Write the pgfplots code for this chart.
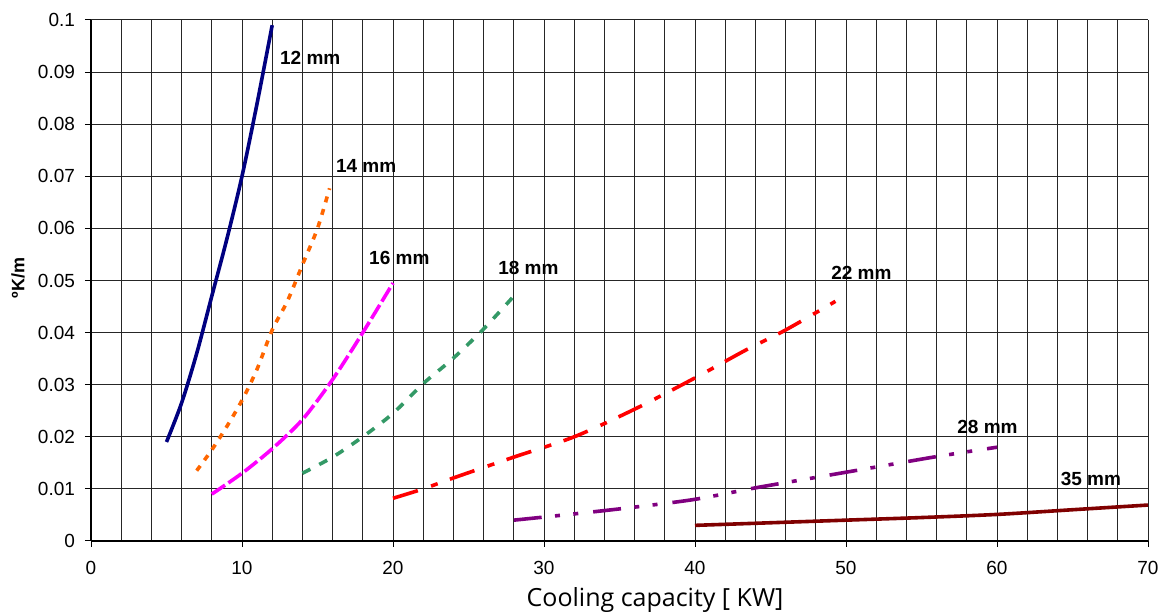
\documentclass[border=0pt]{standalone}
\usepackage{pgfplots}
\pgfplotsset{compat=1.18}
\usepackage{fontspec}
\setmainfont{Liberation Sans}
\newfontfamily\xlabfont{Open Sans}
\definecolor{cnavy}{HTML}{000080}
\definecolor{corange}{HTML}{FF6600}
\definecolor{cmag}{HTML}{FF00FF}
\definecolor{cgreen}{HTML}{339966}
\definecolor{cred}{HTML}{FF0000}
\definecolor{cpurple}{HTML}{800080}
\definecolor{cdred}{HTML}{800000}
\begin{document}
\begin{tikzpicture}
\path[use as bounding box] (-45.5pt,-36.5pt) rectangle (535pt,270.5pt);
\begin{axis}[
  at={(0,0)}, anchor=south west,
  scale only axis, width=528.5pt, height=260.5pt,
  xmin=0, xmax=70, ymin=0, ymax=0.1,
  axis x line=bottom, axis y line=left,
  axis line style={-, black, line width=0.6pt},
  xtick={0,10,...,70}, minor xtick={0,2,...,70},
  ytick={0,0.01,...,0.1001},
  scaled y ticks=false,
  yticklabel style={/pgf/number format/fixed,/pgf/number format/precision=2},
  /pgf/number format/assume math mode=true,
  tick align=outside, major tick length=3pt, minor tick length=0pt,
  tick style={black, line width=0.5pt},
  grid=both,
  major grid style={black!85, line width=0.5pt},
  minor grid style={black!85, line width=0.5pt},
  ticklabel style={font=\fontsize{9.5}{11}\selectfont},
  yticklabel shift=1.5pt,
  xticklabel style={yshift=-3.5pt},
  xlabel={Cooling capacity [ KW]},
  xlabel style={font=\xlabfont\fontsize{12.5}{14}\selectfont, at={(axis description cs:0.5336,-0.113)}, anchor=center},
  ylabel={ºK/m},
  ylabel style={font=\bfseries\fontsize{9}{11}\selectfont, at={(axis description cs:-0.069,0.505)}, anchor=center},
  clip=false,
]
\addplot[cnavy, line width=1.8pt, smooth] coordinates {
 (5,0.019) (6,0.0265) (7,0.036) (8,0.047) (9,0.058) (10,0.070) (11,0.084) (12,0.099)};
\addplot[corange, line width=1.8pt, smooth, dash pattern=on 3pt off 3.5pt] coordinates {
 (7,0.0135) (8,0.0175) (9,0.022) (10,0.027) (11,0.033) (12,0.0405) (13,0.046) (14,0.053) (15,0.06) (15.8,0.0677)};
\addplot[cmag, line width=1.8pt, smooth, dash pattern=on 8pt off 2pt] coordinates {
 (8,0.009) (10,0.013) (12,0.0177) (14,0.0233) (16,0.031) (18,0.040) (20,0.0495)};
\addplot[cgreen, line width=1.8pt, smooth, dash pattern=on 4.5pt off 5pt] coordinates {
 (14,0.013) (16,0.0161) (18,0.020) (20,0.0245) (22,0.0302) (24,0.0351) (26,0.0407) (28,0.047)};
\addplot[cred, line width=1.8pt, smooth, dash pattern=on 13pt off 7pt on 3.5pt off 6.5pt] coordinates {
 (20,0.0082) (22,0.010) (24,0.0121) (28,0.0161) (32,0.020) (36,0.0253) (40,0.0313) (43.4,0.0367) (46,0.0405) (49.3,0.046)};
\addplot[cpurple, line width=1.8pt, smooth, dash pattern=on 14pt off 6.7pt on 2.5pt off 6.7pt on 2.5pt off 7.5pt] coordinates {
 (28,0.004) (32,0.0052) (36,0.0065) (40,0.008) (44,0.0102) (48,0.0122) (52,0.0142) (56,0.0162) (60,0.018)};
\addplot[cdred, line width=1.8pt, smooth] coordinates {
 (40,0.003) (45,0.0035) (50,0.004) (55,0.0045) (60,0.0051) (65,0.006) (70,0.0069)};
\begin{scope}[every node/.style={font=\bfseries\fontsize{9.5}{11}\selectfont, anchor=west, inner sep=0pt}]
\node at (axis cs:12.5,0.0927) {12 mm};
\node at (axis cs:16.2,0.072) {14 mm};
\node at (axis cs:18.4,0.0543) {16 mm};
\node at (axis cs:26.95,0.0524) {18 mm};
\node at (axis cs:49.0,0.0514) {22 mm};
\node at (axis cs:57.35,0.0219) {28 mm};
\node at (axis cs:64.2,0.0119) {35 mm};
\end{scope}
\end{axis}
\end{tikzpicture}
\end{document}
